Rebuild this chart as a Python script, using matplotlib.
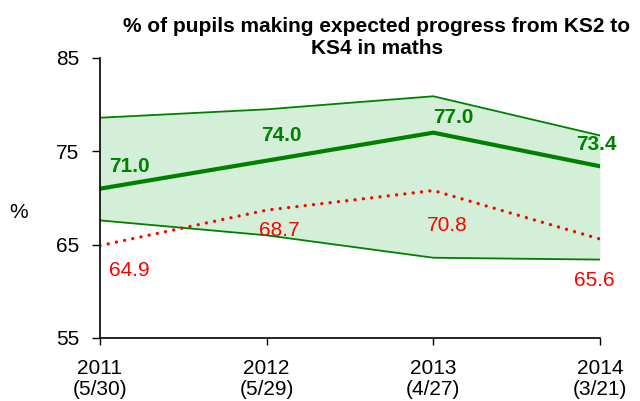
import numpy as np
import matplotlib
matplotlib.use("Agg")
import matplotlib.pyplot as plt

plt.rcParams['font.family'] = ['Liberation Sans', 'DejaVu Sans']

# data
years = ['2011', '2012', '2013', '2014']
rankings = ['(5/30)', '(5/29)', '(4/27)', '(3/21)']
school = [71.0, 74.0, 77.0, 73.4]
national = [64.9, 68.7, 70.8, 65.6]
band_upper = [78.6, 79.5, 80.9, 76.7]
band_lower = [67.6, 66.0, 63.6, 63.4]

green = '#008000'
red = '#ff0000'

fig = plt.figure(figsize=(6.4, 4.01), dpi=100)
ax = fig.add_axes([100 / 640, 1 - 338 / 401, 500 / 640, 280 / 401])

x = np.arange(len(years))

ax.fill_between(x, band_lower, band_upper, color='#d4efd8', lw=0)
ax.plot(x, band_upper, color=green, lw=1.3)
ax.plot(x, band_lower, color=green, lw=1.3)
ax.plot(x, school, color=green, lw=3)
ax.plot(x, national, color=red, lw=2.4, linestyle=(0, (0.01, 2.5)), dash_capstyle='round')

# label offsets (pixels) to sit the numbers like the original
school_off = [(29, 22), (15, 25), (20, 15), (-4, 22)]
national_off = [(29, -25), (13, -20), (14, -35), (-6, -41)]
for i in range(len(x)):
    ax.annotate('%.1f' % school[i], (x[i], school[i]), xytext=school_off[i],
                textcoords='offset pixels', ha='center', va='center',
                color=green, fontsize=15, fontweight='bold', annotation_clip=False)
    ax.annotate('%.1f' % national[i], (x[i], national[i]), xytext=national_off[i],
                textcoords='offset pixels', ha='center', va='center',
                color=red, fontsize=15, annotation_clip=False)

ax.set_xlim(0, 3)
ax.set_ylim(55, 85)
ax.set_yticks([55, 65, 75, 85])
ax.set_xticks(x)
ax.set_xticklabels([y + '\n' + r for y, r in zip(years, rankings)], fontsize=15, linespacing=1.12)
ax.tick_params(axis='y', labelsize=15, direction='out', length=6, width=1, pad=9)
ax.tick_params(axis='x', direction='out', length=5, width=1, pad=10)
ax.spines['top'].set_visible(False)
ax.spines['right'].set_visible(False)
ax.spines['left'].set_linewidth(1.2)
ax.spines['bottom'].set_linewidth(1.2)

fig.text(19 / 640, 1 - 212 / 401, '%', fontsize=15, ha='center', va='center')
fig.text(377 / 640, 1 - 38 / 401, '% of pupils making expected progress from KS2 to\nKS4 in maths',
         fontsize=15, fontweight='bold', ha='center', va='center', linespacing=1.2)

fig.savefig('out.png', dpi=100)
